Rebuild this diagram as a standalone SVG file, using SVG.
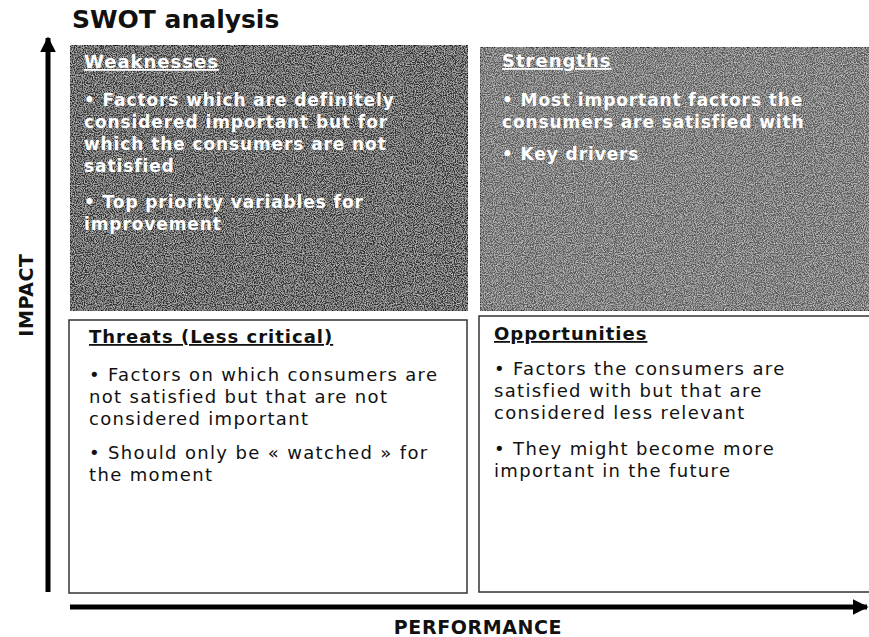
<svg xmlns="http://www.w3.org/2000/svg" width="869" height="637" viewBox="0 0 869 637">
<style>
.title{font-family:"DejaVu Sans",sans-serif;font-weight:bold;font-size:25px;fill:#111}
.axis{font-family:"DejaVu Sans",sans-serif;font-weight:bold;font-size:19px;fill:#111;letter-spacing:0.6px}
.hd{font-family:"DejaVu Sans",sans-serif;font-weight:bold;font-size:18px;letter-spacing:1px;text-decoration:underline}
.wt{font-family:"DejaVu Sans",sans-serif;font-weight:bold;font-size:17px;letter-spacing:0.9px;fill:#fff}
.bt{font-family:"DejaVu Sans",sans-serif;font-size:18px;fill:#111;letter-spacing:1.35px}
.line{stroke:#000;stroke-width:5;fill:none}
</style>
<defs>
<filter id="noise" x="0" y="0" width="100%" height="100%">
<feTurbulence type="fractalNoise" baseFrequency="0.9" numOctaves="2" seed="3" result="t"/>
<feColorMatrix in="t" type="matrix" values="0 0 0 0 1  0 0 0 0 1  0 0 0 0 1  0 0 0 1.2 -0.45" result="n"/>
<feComposite in="n" in2="SourceGraphic" operator="in" result="m"/>
<feMerge><feMergeNode in="SourceGraphic"/><feMergeNode in="m"/></feMerge>
</filter>
<marker id="ah" viewBox="0 0 10 10" refX="9" refY="5" markerWidth="3.2" markerHeight="3.2" orient="auto" markerUnits="strokeWidth">
<path d="M0,0 L10,5 L0,10 z" fill="#000"/>
</marker>
</defs>
<rect width="869" height="637" fill="#fff"/>
<text class="title" x="72" y="28">SWOT analysis</text>

<g id="connectors">
<line class="line" x1="48" y1="592" x2="48" y2="38" marker-end="url(#ah)"/>
<line class="line" x1="70" y1="607" x2="867" y2="607" marker-end="url(#ah)"/>
</g>

<g id="weaknesses">
<rect x="70" y="45" width="398" height="266" fill="#333" stroke="#111" stroke-width="1.5" filter="url(#noise)"/>
<text class="hd" x="84" y="68" fill="#fff">Weaknesses</text>
<text class="wt" x="84" y="106">• Factors which are definitely</text>
<text class="wt" x="84" y="128">considered important but for</text>
<text class="wt" x="84" y="150">which the consumers are not</text>
<text class="wt" x="84" y="172">satisfied</text>
<text class="wt" x="84" y="208">• Top priority variables for</text>
<text class="wt" x="84" y="230">improvement</text>
</g>

<g id="strengths">
<rect x="480" y="47" width="392" height="264" fill="#5a5a5a" stroke="#222" stroke-width="1.5" filter="url(#noise)"/>
<text class="hd" x="502" y="67" fill="#fff">Strengths</text>
<text class="wt" x="502" y="106">• Most important factors the</text>
<text class="wt" x="502" y="128">consumers are satisfied with</text>
<text class="wt" x="502" y="160">• Key drivers</text>
</g>

<g id="threats">
<rect x="69" y="320" width="398" height="273" fill="#fff" stroke="#333" stroke-width="1.5"/>
<text class="hd" x="89" y="343" fill="#111">Threats (Less critical)</text>
<text class="bt" x="89" y="381">• Factors on which consumers are</text>
<text class="bt" x="89" y="403">not satisfied but that are not</text>
<text class="bt" x="89" y="425">considered important</text>
<text class="bt" x="89" y="459">• Should only be « watched » for</text>
<text class="bt" x="89" y="481">the moment</text>
</g>

<g id="opportunities">
<rect x="479" y="316" width="393" height="276" fill="#fff" stroke="#333" stroke-width="1.5"/>
<text class="hd" x="494" y="340" fill="#111">Opportunities</text>
<text class="bt" x="494" y="375">• Factors the consumers are</text>
<text class="bt" x="494" y="397">satisfied with but that are</text>
<text class="bt" x="494" y="419">considered less relevant</text>
<text class="bt" x="494" y="455">• They might become more</text>
<text class="bt" x="494" y="477">important in the future</text>
</g>

<text class="axis" x="478" y="634" text-anchor="middle">PERFORMANCE</text>
<text class="axis" transform="translate(33,295) rotate(-90)" text-anchor="middle">IMPACT</text>
</svg>
